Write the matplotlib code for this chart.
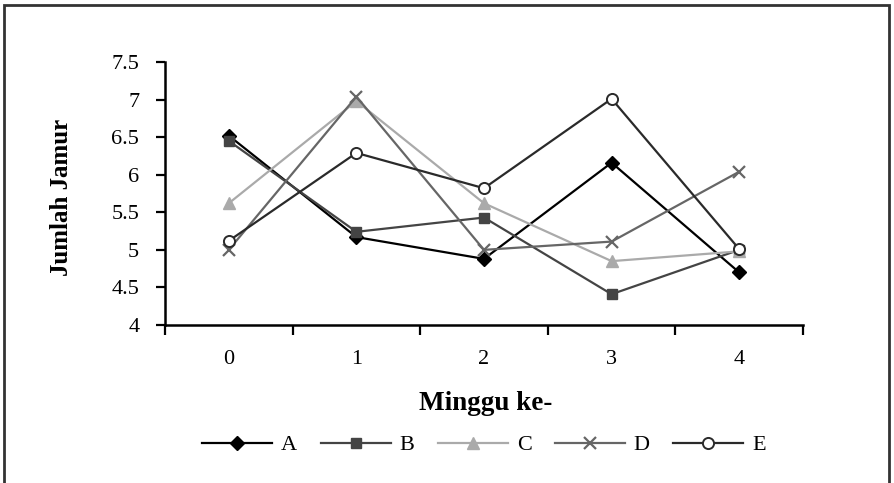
import matplotlib
matplotlib.use("Agg")
import matplotlib.pyplot as plt
from matplotlib.patches import Rectangle
from matplotlib.ticker import FixedLocator, NullFormatter

plt.rcParams['font.family'] = ['Liberation Serif', 'DejaVu Serif']

weeks = ["0", "1", "2", "3", "4"]
series_names = ["A", "B", "C", "D", "E"]
A = [6.52, 5.17, 4.88, 6.16, 4.70]
B = [6.45, 5.24, 5.43, 4.41, 5.00]
C = [5.62, 6.98, 5.62, 4.85, 4.98]
D = [5.00, 7.04, 5.00, 5.11, 6.04]
E = [5.12, 6.29, 5.82, 7.01, 5.01]
yticks = [4, 4.5, 5, 5.5, 6, 6.5, 7, 7.5]
ytick_labels = ["4", "4.5", "5", "5.5", "6", "6.5", "7", "7.5"]

styles = [
    dict(color="#000000", marker="D", ms=7, mfc="#000000", mec="#000000"),
    dict(color="#444444", marker="s", ms=7.5, mfc="#444444", mec="#444444"),
    dict(color="#aaaaaa", marker="^", ms=8.5, mfc="#aaaaaa", mec="#aaaaaa"),
    dict(color="#666666", marker="x", ms=9, mfc="#666666", mec="#666666", mew=1.6),
    dict(color="#2a2a2a", marker="o", ms=8, mfc="white", mec="#2a2a2a", mew=1.4),
]

fig = plt.figure(figsize=(8.94, 4.83), dpi=100)
ax = fig.add_axes([165/894, 1-325/483, (803-165)/894, (325-62)/483])

xs = list(range(len(weeks)))
for name, vals, st in zip(series_names, [A, B, C, D, E], styles):
    ax.plot(xs, vals, lw=1.6, label=name, **st)

ax.set_xlim(-0.5, 4.5)
ax.set_ylim(4, 7.5)
ax.set_yticks(yticks)
ax.set_yticklabels(ytick_labels, fontsize=16)
ax.xaxis.set_major_locator(FixedLocator([-0.5, 0.5, 1.5, 2.5, 3.5, 4.5]))
ax.xaxis.set_major_formatter(NullFormatter())
ax.set_xticks(xs, minor=True)
ax.set_xticklabels(weeks, minor=True, fontsize=16)
ax.tick_params(axis='x', which='major', direction='out', length=7, width=1.6, color='black')
ax.tick_params(axis='x', which='minor', length=0, pad=18)
ax.tick_params(axis='y', direction='out', length=6.5, width=1.6, pad=12, color='black')
for s in ['top', 'right']:
    ax.spines[s].set_visible(False)
for s in ['left', 'bottom']:
    ax.spines[s].set_linewidth(1.8)
    ax.spines[s].set_color('black')

fig.text(62/894, 1-197/483, "Jumlah Jamur", fontsize=18, fontweight='bold',
         rotation=90, ha='center', va='center')
fig.text(486/894, 1-410/483, "Minggu ke-", fontsize=19.5, fontweight='bold',
         ha='center', va='baseline')

handles, labels = ax.get_legend_handles_labels()
fig.legend(handles, labels, loc='center', bbox_to_anchor=(484/894, 1-445/483), ncol=5,
           frameon=False, fontsize=16, handlelength=3.15, handletextpad=0.4,
           columnspacing=1.05)

fig.add_artist(Rectangle((4/894, -0.1), (889-4)/894, 1.1 - 5/483, transform=fig.transFigure,
                         fill=False, lw=2, edgecolor='#333333'))

fig.savefig("out.png", dpi=100)
